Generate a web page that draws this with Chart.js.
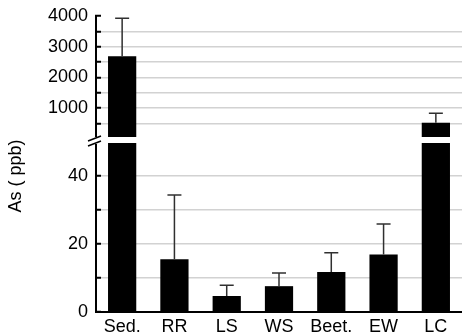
<!DOCTYPE html>
<html>
<head>
<meta charset="utf-8">
<script src="https://cdn.jsdelivr.net/npm/chart.js@4.4.1/dist/chart.umd.min.js"></script>
<style>
  html, body { margin: 0; padding: 0; background: #fff; }
</style>
</head>
<body>
<canvas id="chart_area" width="462" height="336"></canvas>
<script>
'use strict';

//Data
var categories = ['Sed.', 'RR', 'LS', 'WS', 'Beet.', 'EW', 'LC'];
var asMean  = [2690, 15.5, 4.7, 7.6, 11.8, 16.9, 520];     // ppb
var asError = [1235, 18.9, 3.2, 3.9, 5.6, 9.0, 306];       // upper error only
var topTicks = [500, 1000, 1500, 2000, 2500, 3000, 3500, 4000];
var topLabels = [1000, 2000, 3000, 4000];
var bottomTicks = [0, 10, 20, 30, 40];
var bottomLabels = [0, 20, 40];
var yTitle = 'As ( ppb)';

var font = "'Liberation Sans', Arial, sans-serif";
Chart.defaults.font.family = font;
Chart.defaults.color = '#000';

var gridGray = '#d2d2d2';

//Error bars, drawn through the y scales
var errorBars = {
    id: 'errorBars',
    afterDatasetsDraw: function(chart){
        var ctx = chart.ctx;
        var xs = chart.scales.x, yTop = chart.scales.yTop, yBot = chart.scales.yBottom;
        ctx.save();
        ctx.strokeStyle = '#303030';
        ctx.lineWidth = 1.5;
        asMean.forEach(function(v, i){
            var hi = v + asError[i];
            var sc = hi <= yBot.max ? yBot : yTop;
            var x = xs.getPixelForValue(i);
            var y0 = sc.getPixelForValue(v), y1 = sc.getPixelForValue(hi);
            ctx.beginPath();
            ctx.moveTo(x, y0); ctx.lineTo(x, y1);
            ctx.moveTo(x - 7, y1); ctx.lineTo(x + 7, y1);
            ctx.stroke();
        });
        ctx.restore();
    }
};

//Axis break marks + y title
var axisBreak = {
    id: 'axisBreak',
    afterDraw: function(chart){
        var ctx = chart.ctx;
        var left = chart.chartArea.left;
        var b = chart.scales.yTop.bottom;
        ctx.save();
        ctx.fillStyle = '#fff';
        ctx.fillRect(left - 6, b - 3, 9, 7);
        ctx.strokeStyle = '#000';
        ctx.lineWidth = 1.5;
        ctx.beginPath();
        ctx.moveTo(left - 8, b + 1); ctx.lineTo(left + 5, b - 4);
        ctx.moveTo(left - 8, b + 6); ctx.lineTo(left + 5, b + 1);
        ctx.stroke();

        ctx.translate(16, 176);
        ctx.rotate(-Math.PI / 2);
        ctx.fillStyle = '#000';
        ctx.font = '18px ' + font;
        ctx.textAlign = 'center';
        ctx.textBaseline = 'middle';
        ctx.fillText(yTitle, 0, 0);
        ctx.restore();
    }
};

function barSet(axis, clip){
    return {
        data: asMean,
        yAxisID: axis,
        backgroundColor: '#000',
        grouped: false,
        barPercentage: 0.54,
        categoryPercentage: 1,
        clip: clip
    };
}

function yScale(opts){
    var base = {
        position: 'left',
        stack: 'as',
        afterFit: function(s){ s.width = 96; s.paddingTop = 0; s.paddingBottom = 0; },
        ticks: {
            font: { size: 18 },
            padding: 13,
            color: '#000',
            autoSkip: false
        },
        grid: {
            lineWidth: 1.5,
            tickLength: -5,
            tickColor: '#000',
            tickWidth: 2
        },
        border: { color: '#000', width: 2 }
    };
    return Object.assign(base, opts);
}

var config = {
    type: 'bar',
    data: {
        labels: categories,
        datasets: [
            barSet('yTop',    { left: 0, right: 0, top: 0, bottom: -3 }),
            barSet('yBottom', { left: 0, right: 0, top: -3, bottom: 0 })
        ]
    },
    options: {
        responsive: false,
        animation: false,
        devicePixelRatio: 1,
        layout: { padding: { top: 16, right: 0, left: 0, bottom: 0 } },
        plugins: { legend: { display: false }, tooltip: { enabled: false } },
        scales: {
            x: {
                grid: { display: false, drawTicks: false },
                border: { color: '#000', width: 2 },
                ticks: { font: { size: 18 }, padding: 4, color: '#000' },
                afterFit: function(s){ s.height = 24; }
            },
            //stacked scales: the one defined last sits on top
            yBottom: yScale({
                stackWeight: 172,
                min: 0,
                max: 50.6,
                afterBuildTicks: function(s){ s.ticks = bottomTicks.map(function(v){ return { value: v }; }); }
            }),
            yTop: yScale({
                stackWeight: 124,
                min: -43,
                max: 4000,
                afterBuildTicks: function(s){ s.ticks = topTicks.map(function(v){ return { value: v }; }); }
            })
        }
    },
    plugins: [errorBars, axisBreak]
};

config.options.scales.yTop.ticks.callback = function(v){ return topLabels.indexOf(v) >= 0 ? String(v) : ''; };
config.options.scales.yTop.grid.color = function(c){ return c.tick && c.tick.value < 4000 ? gridGray : 'rgba(0,0,0,0)'; };
config.options.scales.yBottom.ticks.callback = function(v){ return bottomLabels.indexOf(v) >= 0 ? String(v) : ''; };
config.options.scales.yBottom.grid.color = function(c){ return c.tick && c.tick.value > 0 ? gridGray : 'rgba(0,0,0,0)'; };

var ctx = document.getElementById('chart_area').getContext('2d');
window.myBar = new Chart(ctx, config);
</script>
</body>
</html>
